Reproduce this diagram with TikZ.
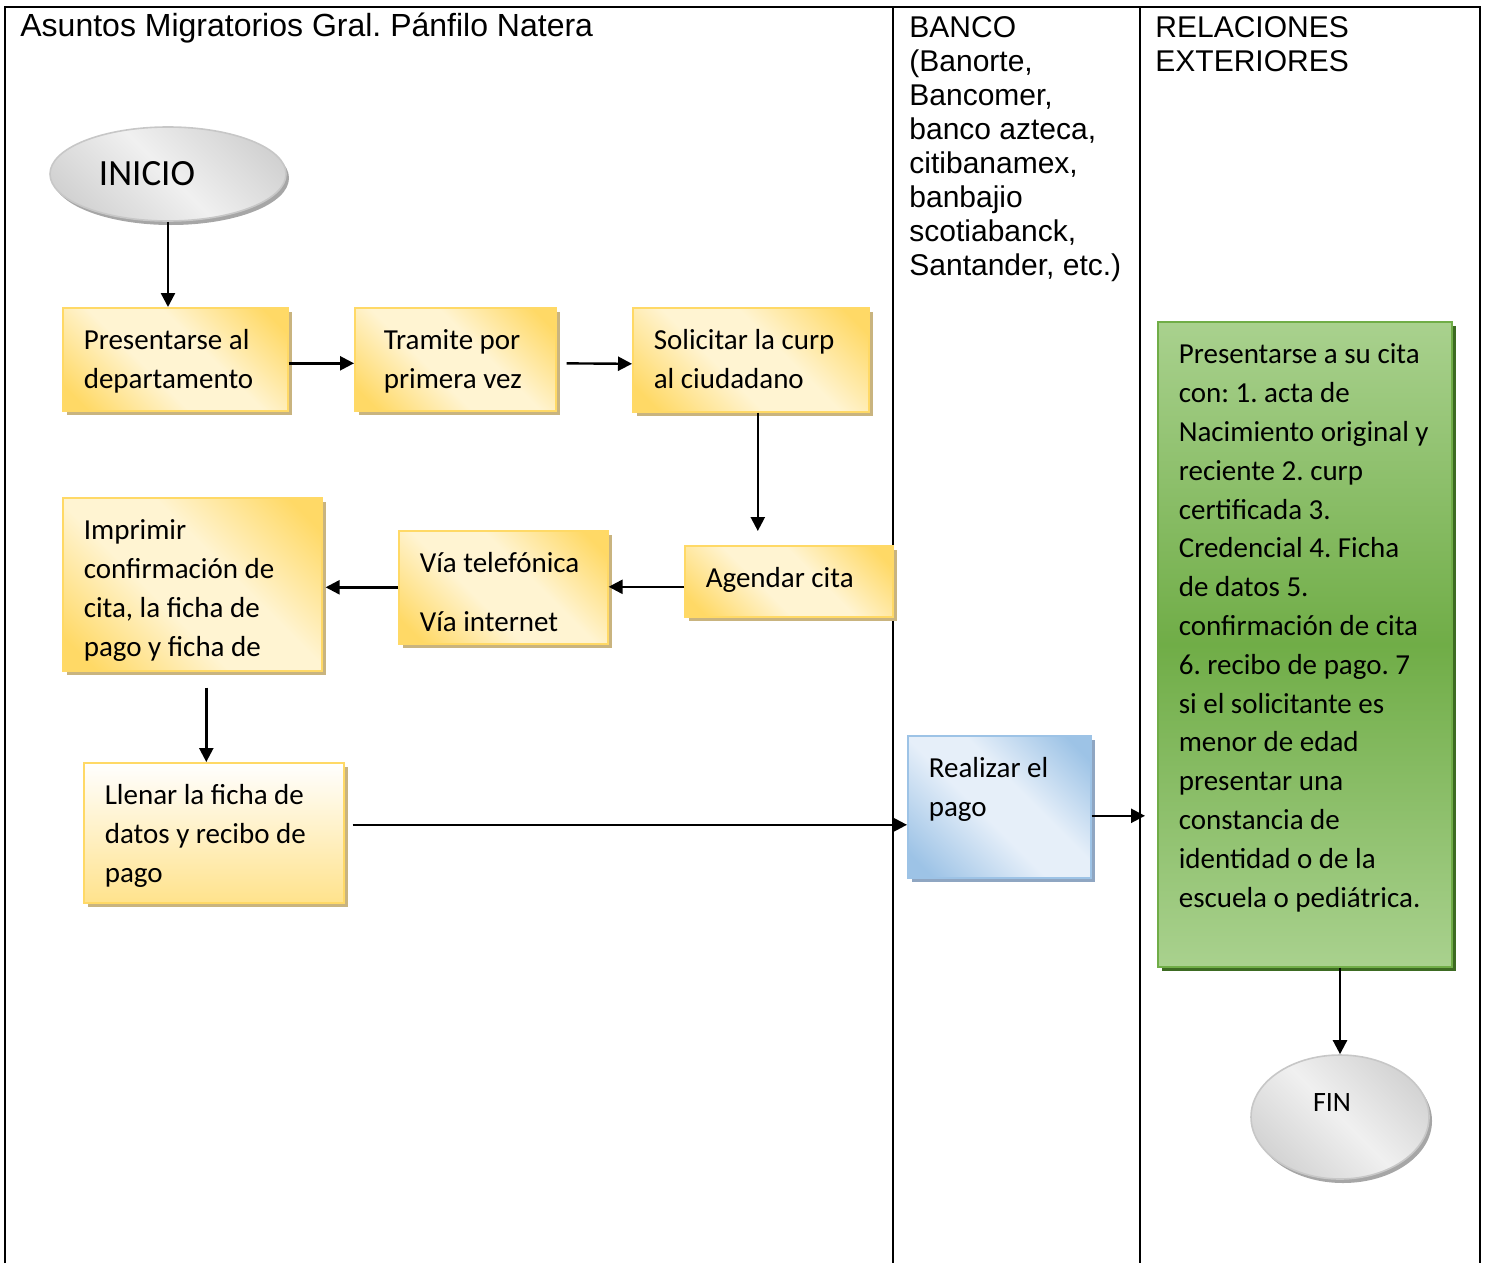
\documentclass[tikz,border=0pt]{standalone}
\usepackage{fontspec}
\setmainfont{Liberation Sans}
\newfontfamily\calibri{Carlito}
\usetikzlibrary{arrows.meta,shapes.geometric,shadows}
\frenchspacing

\definecolor{ygold}{HTML}{FFD966}
\definecolor{ylight}{HTML}{FFF4D2}
\definecolor{ytan}{HTML}{C9B47F}
\definecolor{bdark}{HTML}{9DC3E6}
\definecolor{blight}{HTML}{E6EFF9}
\definecolor{bshadow}{HTML}{8FA6C2}
\definecolor{glight}{HTML}{A9D18E}
\definecolor{gdark}{HTML}{70AD47}
\definecolor{gshadow}{HTML}{3D6B22}
\definecolor{edark}{HTML}{D0D0D0}
\definecolor{elight}{HTML}{F0F0F0}

\pgfdeclarehorizontalshading{yband}{100bp}{color(0bp)=(ygold); color(20bp)=(ygold); color(42bp)=(ylight); color(58bp)=(ylight); color(80bp)=(ygold); color(100bp)=(ygold)}
\pgfdeclarehorizontalshading{bband}{100bp}{color(0bp)=(bdark); color(20bp)=(bdark); color(45bp)=(blight); color(58bp)=(blight); color(80bp)=(bdark); color(100bp)=(bdark)}
\pgfdeclarehorizontalshading{eband}{100bp}{color(0bp)=(edark); color(22bp)=(edark); color(50bp)=(elight); color(78bp)=(edark); color(100bp)=(edark)}

% texto de caja: ancho y alto en px
\newcommand{\boxtxt}[3]{\parbox[t][\dimexpr#2pt/2-15pt\relax][t]{\dimexpr#1pt/2-21pt\relax}{\begin{tabular}[t]{@{}l@{}}#3\end{tabular}}}

\tikzset{
  lane/.style={line width=1pt},
  head/.style={anchor=north west, inner sep=0pt, align=left, font=\fontsize{16}{17}\selectfont},
  lanehead/.style={head, font=\fontsize{15}{17}\selectfont},
  ybox/.style={rectangle, anchor=north west, draw=ygold, line width=0.8pt,
    shading=yband, shading angle=45, inner xsep=10.5pt, inner ysep=7.5pt,
    font=\calibri\fontsize{14.5}{19.4}\selectfont,
    drop shadow={shadow xshift=2pt, shadow yshift=-2pt, fill=ytan, opacity=1}},
  bbox/.style={ybox, draw=bdark, shading=bband,
    drop shadow={shadow xshift=2pt, shadow yshift=-2pt, fill=bshadow, opacity=1}},
  gbox/.style={ybox, draw=gdark, top color=glight, bottom color=glight, middle color=gdark,
    drop shadow={shadow xshift=2pt, shadow yshift=-2pt, fill=gshadow, opacity=1}},
  term/.style={ellipse, draw=black!22, line width=0.8pt, shading=eband, shading angle=45,
    inner sep=0pt, font=\calibri,
    drop shadow={shadow xshift=1.5pt, shadow yshift=-2pt, fill=black!35, opacity=1}},
  arr/.style={-{Triangle[length=7pt,width=7pt]}, line width=1.2pt}
}

\begin{document}
\begin{tikzpicture}[x=0.5pt, y=-0.5pt]
\useasboundingbox (0,0) rectangle (1486,1263);
\draw[lane] (5,1263) -- (5,7) -- (1480,7) -- (1480,1263);
\draw[lane] (893,7) -- (893,1263);
\draw[lane] (1140,7) -- (1140,1263);
\node[head] (mig) at (20,13) {Asuntos Migratorios Gral. Pánfilo Natera};
\node[lanehead] (banco) at (909,16) {BANCO\\(Banorte,\\Bancomer,\\banco azteca,\\citibanamex,\\banbajio\\scotiabanck,\\Santander, etc.)};
\node[lanehead] (sre) at (1155,16) {RELACIONES\\EXTERIORES};

\node[term, minimum width=118pt, minimum height=47pt] (inicio) at (168,174) {\fontsize{18.5}{20}\selectfont INICIO\rule{21pt}{0pt}};
\node[ybox] (pres) at (62,307) {\boxtxt{225}{103}{Presentarse al\\departamento}};
\node[ybox] (tram) at (354,307) {\boxtxt{201}{103}{\hspace*{4pt}Tramite por\\\hspace*{4pt}primera vez}};
\node[ybox] (soli) at (632,307) {\boxtxt{236}{104}{Solicitar la curp\\al ciudadano}};
\node[ybox] (agen) at (684,545) {\boxtxt{208}{71}{Agendar cita}};
\node[ybox] (via) at (398,530) {\boxtxt{209}{113}{Vía telefónica\\[10pt]Vía internet}};
\node[ybox] (impr) at (62,497) {\boxtxt{259}{173}{Imprimir\\confirmación de\\cita, la ficha de\\pago y ficha de}};
\node[ybox, top color=white, bottom color=ygold!75] (llen) at (83,762) {\boxtxt{260}{140}{Llenar la ficha de\\datos y recibo de\\pago}};
\node[bbox] (real) at (907,735) {\boxtxt{183}{142}{Realizar el\\pago}};
\node[gbox] (green) at (1157,321) {\boxtxt{294}{645}{Presentarse a su cita\\con: 1. acta de\\Nacimiento original y\\reciente 2. curp\\certificada 3.\\Credencial 4. Ficha\\de datos 5.\\confirmación de cita\\6. recibo de pago. 7\\si el solicitante es\\menor de edad\\presentar una\\constancia de\\identidad o de la\\escuela o pediátrica.}};
\node[term, minimum width=89pt, minimum height=62pt] (fin) at (1340,1117) {\fontsize{14}{16}\selectfont\raisebox{15pt}{FIN}\rule{8pt}{0pt}};

\draw[arr] (inicio.south) -- (inicio.south |- pres.north);
\draw[arr] ([yshift=-2pt]pres.east) -- ([yshift=-2pt]tram.west);
\draw[arr, shorten <=5pt] ([yshift=-2pt]tram.east) -- ([yshift=-2pt]soli.west);
\draw[arr, shorten >=7pt] ([xshift=3.5pt]soli.south) -- ([xshift=3.5pt]soli.south |- agen.north);
\draw[arr] ([yshift=-2.75pt]agen.west) -- ([yshift=-2.75pt]agen.west -| via.east);
\draw[arr, shorten >=1.5pt] (via.west) -- (via.west -| impr.east);
\draw[arr, shorten <=8pt] ([xshift=7pt]impr.south) -- ([xshift=7pt]impr.south |- llen.north);
\draw[arr, shorten <=4pt] ([yshift=4pt]llen.east) -- ([yshift=4pt]llen.east -| real.west);
\draw[arr, shorten >=6pt] ([yshift=-4.5pt]real.east) -- ([yshift=-4.5pt]real.east -| green.west);
\draw[arr] (fin.north |- green.south) -- (fin.north);
\end{tikzpicture}
\end{document}
